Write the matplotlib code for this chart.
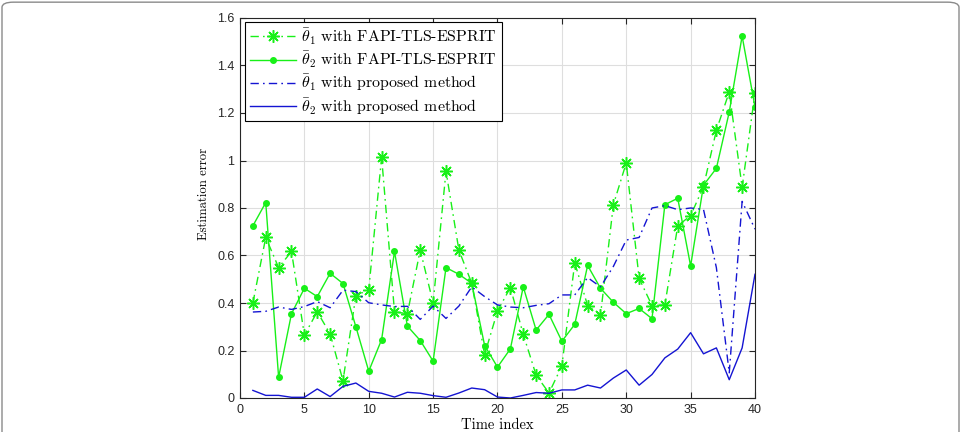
import numpy as np
import matplotlib.pyplot as plt
import matplotlib as mpl
from matplotlib.patches import FancyBboxPatch

mpl.rcParams['mathtext.fontset'] = 'cm'
mpl.rcParams['axes.formatter.use_mathtext'] = True

# time index 1..40
t = np.arange(1, 41)

# theta1 / theta2 errors, FAPI-TLS-ESPRIT
fapi_th1 = [0.40, 0.676, 0.549, 0.617, 0.265, 0.363, 0.270, 0.073, 0.431, 0.456,
            1.014, 0.363, 0.355, 0.623, 0.400, 0.955, 0.623, 0.483, 0.183, 0.366,
            0.465, 0.268, 0.096, 0.021, 0.135, 0.569, 0.389, 0.349, 0.814, 0.990,
            0.504, 0.389, 0.392, 0.725, 0.768, 0.890, 1.127, 1.289, 0.887, 1.285]
fapi_th2 = [0.725, 0.823, 0.087, 0.355, 0.462, 0.427, 0.525, 0.482, 0.300, 0.113,
            0.246, 0.617, 0.303, 0.242, 0.155, 0.549, 0.521, 0.483, 0.221, 0.130,
            0.207, 0.468, 0.286, 0.352, 0.239, 0.310, 0.558, 0.462, 0.403, 0.355,
            0.377, 0.334, 0.814, 0.841, 0.556, 0.896, 0.967, 1.204, 1.524, 1.225]

# proposed method
prop_th1 = [0.362, 0.365, 0.383, 0.373, 0.385, 0.406, 0.380, 0.454, 0.448, 0.401,
            0.392, 0.385, 0.386, 0.331, 0.387, 0.335, 0.387, 0.468, 0.427, 0.392,
            0.383, 0.380, 0.390, 0.397, 0.434, 0.434, 0.507, 0.468, 0.554, 0.665,
            0.676, 0.800, 0.810, 0.793, 0.800, 0.794, 0.549, 0.106, 0.828, 0.711]
prop_th2 = [0.032, 0.011, 0.011, 0.003, 0.003, 0.038, 0.006, 0.049, 0.063, 0.028,
            0.020, 0.004, 0.024, 0.020, 0.010, 0.003, 0.021, 0.042, 0.035, 0.004,
            0.000, 0.011, 0.023, 0.020, 0.034, 0.034, 0.054, 0.042, 0.084, 0.118,
            0.054, 0.099, 0.169, 0.206, 0.275, 0.186, 0.211, 0.077, 0.211, 0.521]

GREEN = '#18f018'
BLUE = '#1414d2'
dashdot = (0, (6, 3, 1.2, 3))

fig = plt.figure(figsize=(9.62, 4.32), dpi=100)
# page frame
fig.patches.append(FancyBboxPatch((2 / 962, -0.05), 957 / 962, 1.045,
                                  boxstyle='round,pad=0,rounding_size=0.012',
                                  transform=fig.transFigure, fill=False,
                                  edgecolor='#8a8a8a', linewidth=1.0))

ax = fig.add_axes([240 / 962, 34 / 432, 515 / 962, 380 / 432])

ax.plot(t, fapi_th1, color=GREEN, linestyle=dashdot, linewidth=1.0,
        marker=(8, 2, 0), markersize=9, markeredgewidth=1.1,
        label=r'$\bar{\theta}_1$ with FAPI-TLS-ESPRIT')
ax.plot(t, fapi_th2, color=GREEN, linestyle='-', linewidth=1.0,
        marker='.', markersize=8,
        label=r'$\bar{\theta}_2$ with FAPI-TLS-ESPRIT')
ax.plot(t, prop_th1, color=BLUE, linestyle=dashdot, linewidth=1.0,
        label=r'$\bar{\theta}_1$ with proposed method')
ax.plot(t, prop_th2, color=BLUE, linestyle='-', linewidth=1.0,
        label=r'$\bar{\theta}_2$ with proposed method')

ax.set_xlim(0, 40)
ax.set_ylim(0, 1.6)
ax.set_xticks(np.arange(0, 41, 5))
ax.set_yticks(np.arange(0, 1.61, 0.2))
ax.set_xticklabels([str(v) for v in range(0, 41, 5)])
ax.set_yticklabels(['0', '0.2', '0.4', '0.6', '0.8', '1', '1.2', '1.4', '1.6'])

ax.grid(True, color='#dedede', linewidth=0.8)
ax.set_axisbelow(True)
ax.tick_params(direction='in', top=True, right=True, length=4, width=0.8,
               labelsize=9, colors='#262626', pad=4)
for lbl in ax.get_xticklabels() + ax.get_yticklabels():
    lbl.set_fontfamily('Liberation Sans')
for s in ax.spines.values():
    s.set_color('#262626')
    s.set_linewidth(0.8)

ax.set_ylabel('Estimation error', family='cmr10', fontsize=9.2)
ax.yaxis.set_label_coords(-0.058, 0.537)
ax.set_xlabel('Time index', family='cmr10', fontsize=10.5, labelpad=2)

leg = ax.legend(loc='upper left', bbox_to_anchor=(0.0097, 0.9903), borderaxespad=0,
                prop={'family': 'cmr10', 'size': 11.4}, handlelength=2.9,
                handletextpad=0.35, labelspacing=0.18, borderpad=0.3,
                fancybox=False, framealpha=1, edgecolor='black')
leg.get_frame().set_linewidth(0.8)

fig.savefig('out.png', dpi=100)
